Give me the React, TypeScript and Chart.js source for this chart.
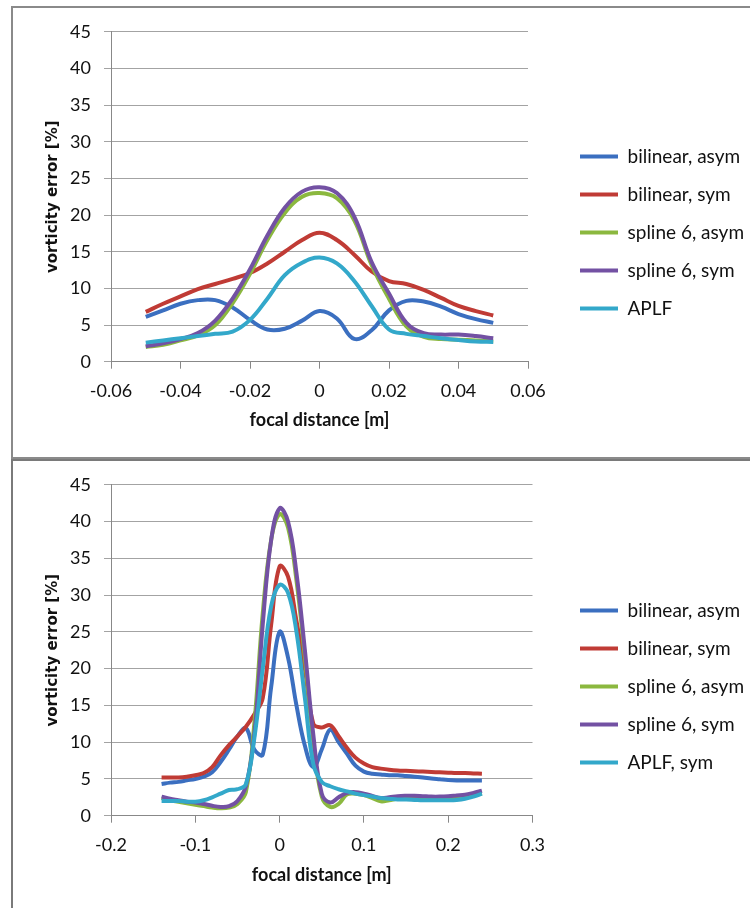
import React, { useEffect, useRef } from 'react';
import { Chart, registerables } from 'chart.js';

Chart.register(...registerables);

// ---------- shared ----------
const COLORS = ['#3B6FC0', '#C03B35', '#8BB83F', '#7351A3', '#33A8CA'];
const yTickValues = [0, 5, 10, 15, 20, 25, 30, 35, 40, 45];

// ---------- top chart ----------
const topLabels = ['bilinear, asym', 'bilinear, sym', 'spline 6, asym', 'spline 6, sym', 'APLF'];
const topXTickValues = [-0.06, -0.04, -0.02, 0, 0.02, 0.04, 0.06];
const topXTickLabels = ['-0.06', '-0.04', '-0.02', '0', '0.02', '0.04', '0.06'];
const topX = [-0.05, -0.045, -0.04, -0.035, -0.03, -0.025, -0.02, -0.015, -0.01, -0.005, 0,
  0.005, 0.01, 0.015, 0.02, 0.025, 0.03, 0.035, 0.04, 0.045, 0.05];
const topBilinearAsym = [6.1, 7.0, 7.9, 8.4, 8.4, 7.4, 5.7, 4.4, 4.5, 5.6, 6.9,
  5.9, 3.1, 4.3, 7.0, 8.3, 8.2, 7.5, 6.5, 5.8, 5.3];
const topBilinearSym = [6.8, 7.9, 8.9, 9.9, 10.6, 11.3, 12.1, 13.4, 15.0, 16.6, 17.6,
  16.6, 14.6, 12.3, 11.0, 10.6, 9.8, 8.7, 7.6, 6.9, 6.3];
const topSplineAsym = [2.0, 2.3, 2.9, 3.6, 5.0, 8.0, 12.0, 16.6, 20.3, 22.5, 23.0,
  22.3, 19.3, 13.2, 8.6, 4.8, 3.4, 3.1, 3.0, 2.9, 2.8];
const topSplineSym = [2.1, 2.5, 3.1, 3.9, 5.6, 8.6, 12.6, 17.2, 21.0, 23.2, 23.8,
  23.0, 19.8, 13.6, 9.3, 5.3, 3.9, 3.7, 3.7, 3.5, 3.2];
const topAPLF = [2.6, 2.9, 3.2, 3.5, 3.8, 4.1, 5.7, 8.6, 11.8, 13.5, 14.2,
  13.4, 11.0, 7.6, 4.4, 3.8, 3.5, 3.2, 2.95, 2.75, 2.7];

// ---------- bottom chart ----------
const botLabels = ['bilinear, asym', 'bilinear, sym', 'spline 6, asym', 'spline 6, sym', 'APLF, sym'];
const botXTickValues = [-0.2, -0.1, 0, 0.1, 0.2, 0.3];
const botXTickLabels = ['-0.2', '-0.1', '0', '0.1', '0.2', '0.3'];
const botX = [-0.14, -0.13, -0.12, -0.11, -0.1, -0.09, -0.08, -0.07, -0.06, -0.05, -0.04, -0.03, -0.02, -0.01, 0,
  0.01, 0.02, 0.03, 0.04, 0.05, 0.06, 0.07, 0.08, 0.09, 0.1, 0.11, 0.12, 0.13, 0.14, 0.15, 0.16, 0.17, 0.18,
  0.19, 0.2, 0.21, 0.22, 0.23, 0.24];
const botBilinearAsym = [4.3, 4.5, 4.6, 4.8, 5.0, 5.3, 5.9, 7.3, 9.0, 10.8, 11.9, 9.0, 8.3, 17.5, 25.0,
  21.5, 15.0, 9.5, 6.6, 9.0, 11.7, 10.0, 8.4, 6.8, 6.0, 5.7, 5.6, 5.5, 5.5, 5.4, 5.3, 5.2, 5.05,
  4.95, 4.85, 4.8, 4.8, 4.8, 4.8];
const botBilinearSym = [5.2, 5.2, 5.2, 5.3, 5.5, 5.8, 6.6, 8.2, 9.6, 10.8, 12.1, 13.8, 16.0, 26.0, 33.9,
  32.5, 26.5, 20.0, 12.5, 12.0, 12.3, 10.8, 9.2, 7.9, 7.1, 6.6, 6.4, 6.25, 6.15, 6.1, 6.05, 6.0, 5.95,
  5.9, 5.85, 5.8, 5.8, 5.75, 5.7];
const botSplineAsym = [2.4, 2.1, 1.9, 1.7, 1.5, 1.3, 1.1, 1.0, 1.1, 1.6, 3.2, 12.5, 27.5, 37.5, 41.0,
  39.2, 32.0, 21.5, 10.0, 2.6, 1.2, 1.6, 2.9, 3.0, 2.8, 2.4, 1.95, 2.1, 2.3, 2.4, 2.4, 2.4, 2.4,
  2.4, 2.45, 2.5, 2.6, 2.8, 3.0];
const botSplineSym = [2.6, 2.3, 2.1, 1.9, 1.8, 1.6, 1.35, 1.2, 1.3, 2.0, 4.0, 11.0, 26.0, 37.5, 41.8,
  40.0, 33.0, 22.5, 11.0, 3.0, 1.8, 2.5, 3.1, 3.2, 3.0, 2.7, 2.4, 2.5, 2.65, 2.7, 2.7, 2.65, 2.6,
  2.6, 2.65, 2.75, 2.85, 3.1, 3.4];
const botAPLF = [2.0, 2.0, 2.0, 1.9, 1.9, 2.1, 2.5, 3.0, 3.5, 3.6, 4.3, 10.5, 20.0, 28.5, 31.4,
  30.3, 25.0, 16.0, 7.0, 4.6, 4.0, 3.6, 3.3, 3.0, 2.8, 2.6, 2.4, 2.3, 2.2, 2.2, 2.15, 2.1, 2.1,
  2.1, 2.1, 2.15, 2.3, 2.6, 3.0];

const LEGEND_FONT_SIZE = 19;
const LEGEND_BOX = 38;
const LEGEND_PAD = 19;
const LEGEND_W = 183;
const LEGEND_PAD_R = 6;
const CANVAS_W = 737;

type Geo = {
  xMin: number; xMax: number; chartRight: number; padB: number; xH: number; titlePadB: number;
};

function makeConfig(xs: number[], series: number[][], labels: string[], tickVals: number[], tickLabels: string[], geo: Geo): any {
  const gap = CANVAS_W - LEGEND_PAD_R - LEGEND_W - geo.chartRight;
  return {
    type: 'line',
    data: {
      datasets: series.map((ys, i) => ({
        label: labels[i],
        data: xs.map((x, j) => ({ x, y: ys[j] })),
        borderColor: COLORS[i],
        backgroundColor: COLORS[i],
        borderWidth: 4,
        pointRadius: 0,
        pointHoverRadius: 0,
        tension: 0.4,
        fill: false,
        order: series.length - i,
        xAxisID: 'x',
        yAxisID: 'y',
      })),
    },
    options: {
      responsive: false,
      animation: false,
      events: [],
      layout: { padding: { left: 0, top: 22, right: LEGEND_PAD_R, bottom: geo.padB } },
      plugins: {
        tooltip: { enabled: false },
        legend: {
          position: 'right',
          align: 'center',
          maxWidth: LEGEND_W,
          labels: {
            usePointStyle: true,
            pointStyle: 'line',
            pointStyleWidth: LEGEND_BOX,
            boxWidth: LEGEND_BOX,
            padding: LEGEND_PAD,
            color: '#111',
            font: { family: 'Lato', size: LEGEND_FONT_SIZE },
            sort: (a: any, b: any) => a.datasetIndex - b.datasetIndex,
          },
        },
      },
      scales: {
        x: {
          type: 'linear',
          position: 'bottom',
          min: geo.xMin,
          max: geo.xMax,
          afterBuildTicks: (s: any) => { s.ticks = tickVals.map((v) => ({ value: v })); },
          ticks: {
            autoSkip: false,
            maxRotation: 0,
            padding: 12,
            color: '#111',
            font: { family: 'Lato', size: 18 },
            callback: (_v: any, idx: number) => tickLabels[idx],
          },
          grid: { drawOnChartArea: false, drawTicks: true, tickLength: 7, color: '#888888', lineWidth: 1 },
          border: { display: true, color: '#888888', width: 1 },
          title: {
            display: true,
            text: 'focal distance [m]',
            color: '#111',
            font: { family: 'Lato', size: 18, weight: 'bold' },
            padding: { top: 0, bottom: geo.titlePadB },
          },
          afterFit: (s: any) => { s.height = geo.xH; },
        },
        y: {
          type: 'linear',
          position: 'left',
          min: 0,
          max: 45,
          afterBuildTicks: (s: any) => { s.ticks = yTickValues.map((v) => ({ value: v })); },
          ticks: {
            padding: 13,
            color: '#111',
            font: { family: 'Lato', size: 18 },
            callback: (v: any) => String(v),
          },
          grid: { color: '#a3a3a3', lineWidth: 1, drawTicks: true, tickLength: 7 },
          border: { display: true, color: '#888888', width: 1 },
          title: {
            display: true,
            text: 'vorticity error [%]',
            color: '#111',
            font: { family: 'DejaVu Sans', size: 15, weight: 'bold' },
            padding: { top: 31, bottom: 0 },
          },
          afterFit: (s: any) => { s.width = 98; },
        },
        gap: {
          type: 'linear',
          position: 'right',
          display: true,
          grid: { display: false },
          border: { display: false },
          ticks: { display: false },
          afterFit: (s: any) => { s.width = gap; },
        },
      },
    },
  };
}

function ChartCanvas({ config, left, top, width, height }: { config: any; left: number; top: number; width: number; height: number }) {
  const ref = useRef<HTMLCanvasElement | null>(null);
  useEffect(() => {
    if (!ref.current) return;
    const chart = new Chart(ref.current, config);
    return () => chart.destroy();
  }, []);
  return (
    <canvas
      ref={ref}
      width={width}
      height={height}
      style={{ position: 'absolute', left, top, width, height, display: 'block' }}
    />
  );
}

export default function App() {
  const topCfg = makeConfig(
    topX,
    [topBilinearAsym, topBilinearSym, topSplineAsym, topSplineSym, topAPLF],
    topLabels, topXTickValues, topXTickLabels,
    { xMin: -0.06, xMax: 0.06, chartRight: 515, padB: 22, xH: 73.3, titlePadB: 4 },
  );
  const botCfg = makeConfig(
    botX,
    [botBilinearAsym, botBilinearSym, botSplineAsym, botSplineSym, botAPLF],
    botLabels, botXTickValues, botXTickLabels,
    { xMin: -0.2, xMax: 0.3, chartRight: 519.5, padB: 18, xH: 74.3, titlePadB: 4 },
  );
  return (
    <div style={{ position: 'absolute', left: 0, top: 0, width: 750, height: 908, overflow: 'hidden', background: '#fff' }}>
      <div style={{ position: 'absolute', left: 11, top: 6, width: 760, height: 449, border: '2px solid #8a8a8a' }} />
      <div style={{ position: 'absolute', left: 11, top: 459, width: 760, height: 470, border: '2px solid #7a7a7a' }} />
      <ChartCanvas config={topCfg} left={13} top={8} width={CANVAS_W} height={449} />
      <ChartCanvas config={botCfg} left={13} top={461} width={CANVAS_W} height={447} />
    </div>
  );
}
